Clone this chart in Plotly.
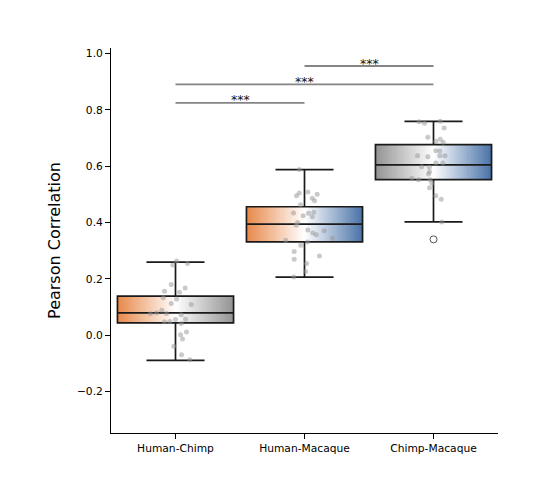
import numpy as np
import plotly.graph_objects as go

categories = ["Human-Chimp", "Human-Macaque", "Chimp-Macaque"]
positions = [0, 1, 2]

# box statistics
q1 = [0.043, 0.331, 0.552]
median = [0.079, 0.394, 0.605]
q3 = [0.138, 0.456, 0.677]
lower_whisker = [-0.090, 0.206, 0.402]
upper_whisker = [0.259, 0.588, 0.759]

# outliers (category index, value)
outlier_cat = [2]
outlier_val = [0.340]

# strip points: jitter offset and value per category
hc_jit = [0.008, -0.021, 0.093, -0.033, -0.085, 0.075, 0.031, -0.095, 0.008, -0.033,
          0.122, -0.106, -0.147, -0.194, -0.070, 0.044, 0.078, 0.000, -0.085, -0.044,
          0.044, 0.085, 0.039, 0.054, -0.013, 0.047, 0.111]
hc_val = [0.263, 0.249, 0.254, 0.180, 0.156, 0.167, 0.152, 0.133, 0.128, 0.112,
          0.109, 0.088, 0.079, 0.076, 0.077, 0.072, 0.056, 0.055, 0.047, 0.048,
          0.041, 0.011, 0.001, -0.014, -0.040, -0.070, -0.088]
hm_jit = [-0.039, -0.062, -0.041, 0.026, 0.098, 0.060, 0.078, -0.031, -0.085, -0.010,
          0.031, 0.060, 0.072, -0.054, -0.064, 0.026, 0.064, 0.091, 0.153, 0.217,
          -0.145, 0.023, -0.029, -0.080, 0.116, -0.080, 0.016, 0.008, -0.083]
hm_val = [0.588, 0.495, 0.505, 0.508, 0.500, 0.486, 0.477, 0.463, 0.434, 0.424,
          0.433, 0.420, 0.436, 0.400, 0.390, 0.373, 0.363, 0.356, 0.371, 0.344,
          0.337, 0.331, 0.319, 0.297, 0.281, 0.269, 0.254, 0.226, 0.206]
cm_jit = [-0.111, -0.070, 0.052, 0.083, -0.044, 0.018, 0.052, 0.075, 0.018, 0.049,
          0.049, 0.088, -0.124, -0.044, 0.018, 0.072, -0.091, -0.033, -0.031, -0.039,
          -0.168, -0.116, -0.026, -0.013, -0.031, 0.018, 0.060, 0.064]
cm_val = [0.758, 0.753, 0.760, 0.736, 0.703, 0.689, 0.696, 0.685, 0.655, 0.654,
          0.637, 0.637, 0.637, 0.634, 0.611, 0.611, 0.598, 0.596, 0.580, 0.572,
          0.557, 0.552, 0.552, 0.539, 0.523, 0.495, 0.483, 0.402]

# significance comparisons
sig_start = [0, 0, 1]
sig_end = [1, 2, 2]
sig_level = [0.825, 0.891, 0.956]
sig_label = ["***", "***", "***"]

# gradient colours (left, right) per box
ORANGE = "#E8894B"
BLUE = "#4A73A8"
GRAY = "#949494"
grad_left = [ORANGE, ORANGE, GRAY]
grad_right = [GRAY, BLUE, BLUE]

BOX_WIDTH = 0.9
FONT = "DejaVu Sans"

fig = go.Figure()

# gradient fills
N = 150
for i, p in enumerate(positions):
    xe = np.linspace(p - BOX_WIDTH / 2, p + BOX_WIDTH / 2, N + 1)
    z = [np.linspace(0, 1, N).tolist()]
    fig.add_trace(go.Heatmap(
        x=xe, y=[q1[i], q3[i]], z=z, zmin=0, zmax=1,
        colorscale=[[0, grad_left[i]], [0.5, "#FFFFFF"], [1, grad_right[i]]],
        showscale=False, hoverinfo="skip"))

# boxes
fig.add_trace(go.Box(
    x=positions, q1=q1, median=median, q3=q3,
    lowerfence=lower_whisker, upperfence=upper_whisker,
    width=BOX_WIDTH, whiskerwidth=0.5, boxpoints=False,
    fillcolor="rgba(0,0,0,0)", line=dict(color="#1a1a1a", width=1.7),
    showlegend=False))

# strip points
for p, jit, val in zip(positions, [hc_jit, hm_jit, cm_jit], [hc_val, hm_val, cm_val]):
    fig.add_trace(go.Scatter(
        x=[p + j for j in jit], y=val, mode="markers",
        marker=dict(color="rgba(150,150,150,0.5)", size=5, line=dict(width=0)),
        showlegend=False, hoverinfo="skip"))

# outliers
fig.add_trace(go.Scatter(
    x=[positions[c] for c in outlier_cat], y=outlier_val, mode="markers",
    marker=dict(symbol="circle-open", color="#555555", size=7, line=dict(width=1)),
    showlegend=False))

# significance bars
for s, e, lv, lab in zip(sig_start, sig_end, sig_level, sig_label):
    fig.add_shape(type="line", x0=positions[s], x1=positions[e], y0=lv, y1=lv,
                  xref="x", yref="y", line=dict(color="#858585", width=1.8))
    fig.add_annotation(x=(positions[s] + positions[e]) / 2, y=lv, text=lab,
                       showarrow=False, xref="x", yref="y", yanchor="bottom",
                       yshift=-6.5, font=dict(family=FONT, size=12.5, color="#111111"))

yticks = [-0.2, 0.0, 0.2, 0.4, 0.6, 0.8, 1.0]
ytext = [("\u2212" if v < 0 else "") + f"{abs(v):.1f}" for v in yticks]

fig.update_layout(
    width=548, height=504,
    margin=dict(l=111, r=50, t=48, b=71),
    plot_bgcolor="white", paper_bgcolor="white",
    showlegend=False,
    font=dict(family=FONT, color="black"),
    xaxis=dict(range=[-0.5, 2.5], tickvals=positions, ticktext=categories,
               showgrid=False, zeroline=False, showline=True, linecolor="black",
               linewidth=1, ticks="outside", ticklen=5, tickwidth=1, tickcolor="black",
               tickfont=dict(family=FONT, size=10.7, color="black")),
    yaxis=dict(range=[-0.348, 1.02], tickvals=yticks, ticktext=ytext,
               showgrid=False, zeroline=False, showline=True, linecolor="black",
               linewidth=1, ticks="outside", ticklen=5, tickwidth=1, tickcolor="black",
               tickfont=dict(family=FONT, size=10.7, color="black"),
               title=dict(text="Pearson Correlation", standoff=12,
                          font=dict(family=FONT, size=16, color="black"))),
)

fig.write_html("out.html")
